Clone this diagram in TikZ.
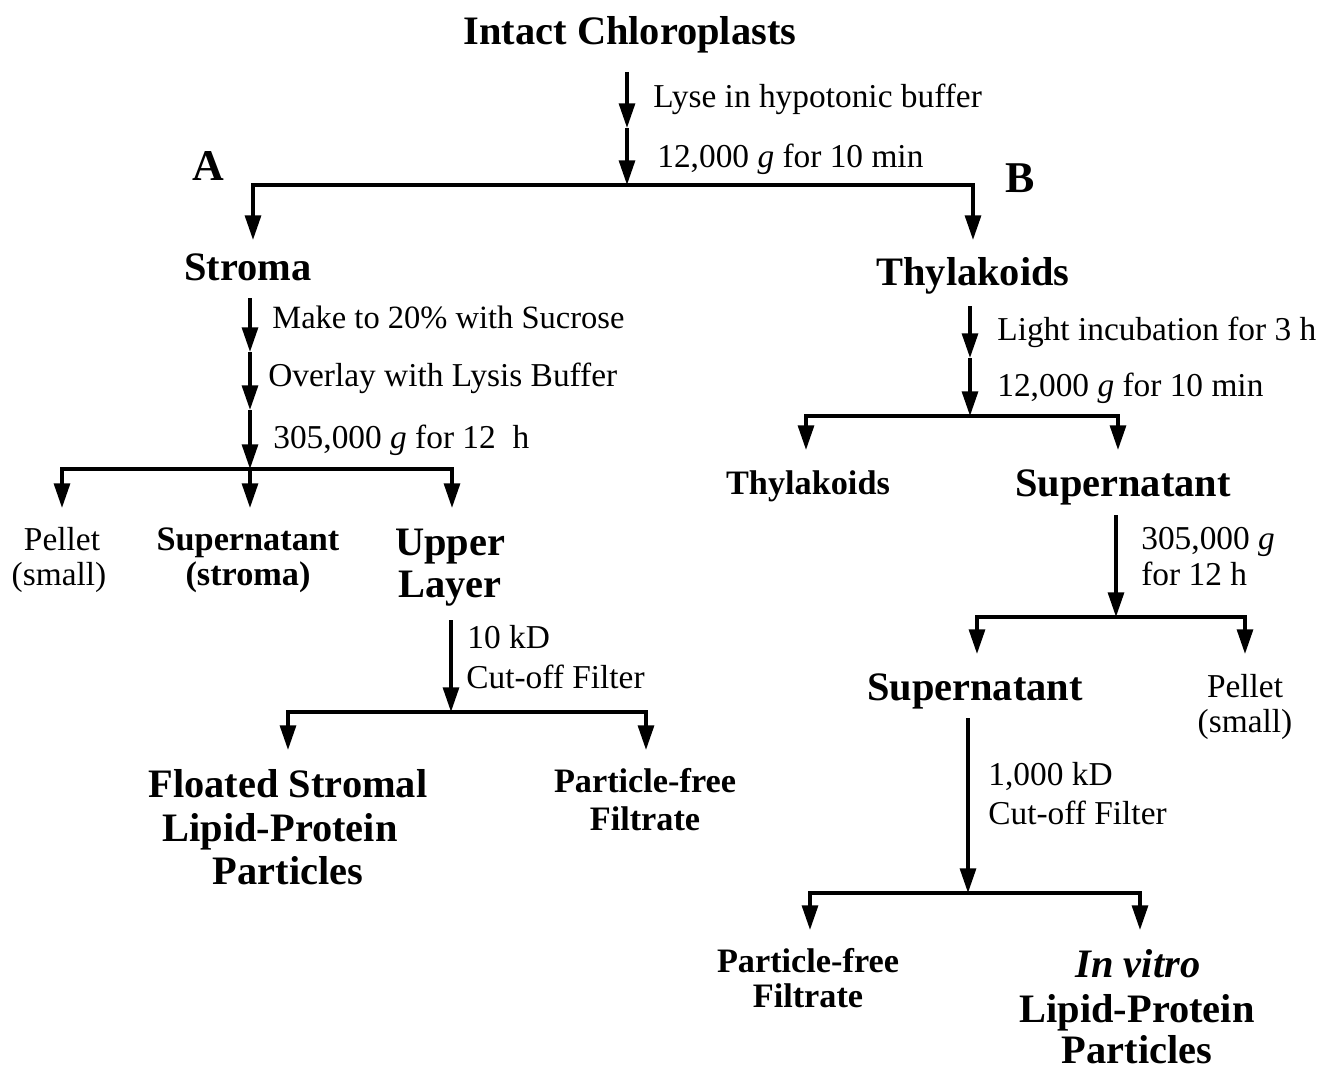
\documentclass[tikz,border=0pt]{standalone}
\usepackage{fontspec}
\setmainfont{Liberation Serif}
\usetikzlibrary{arrows.meta}
\begin{document}
\begin{tikzpicture}[x=0.02cm,y=-0.02cm,
  arr/.style={-{Triangle[width=9pt,length=14pt]}, line width=2pt},
  big/.style={font=\fontsize{23}{27}\selectfont\bfseries, inner sep=0, anchor=base},
  sml/.style={font=\fontsize{19.5}{23}\selectfont\bfseries, inner sep=0, anchor=base},
  reg/.style={font=\fontsize{19}{23}\selectfont, inner sep=0, anchor=base},
  lab/.style={reg, anchor=base west}]
\useasboundingbox (0,0) rectangle (1332,1071);

% ---------- top ----------
\node[big] (ic) at (630,45) {Intact Chloroplasts};
\coordinate (c0) at (627,72);
\coordinate (c1) at (627,128);
\coordinate (j0) at (627,185);
\node[lab] (l1) at (653,108) {Lyse in hypotonic buffer};
\node[lab] (l2) at (657,168) {12,000 \textit{g} for 10 min};
\draw[arr] (c0) -- (c1);
\draw[arr] (c1) -- (j0);
\node[big, font=\fontsize{25}{29}\selectfont\bfseries] (A) at (208,181) {A};
\node[big, font=\fontsize{25}{29}\selectfont\bfseries] (B) at (1020,193) {B};
\coordinate (tS) at (253,240);
\coordinate (tT) at (973,240);
\draw[arr] (j0) -| (tS);
\draw[arr] (j0) -| (tT);

% ---------- branch A ----------
\node[big] (stroma) at (248,280) {Stroma};
\coordinate (s0) at (250,298);
\coordinate (s1) at (250,352);
\coordinate (s2) at (250,410);
\coordinate (j1) at (250,469);
\draw[arr] (s0) -- (s1);
\draw[arr] (s1) -- (s2);
\draw[arr] (s2) -- (j1);
\node[lab, font=\fontsize{18.5}{22}\selectfont] (m1) at (272,328) {Make to 20\% with Sucrose};
\node[lab] (m2) at (268,386) {Overlay with Lysis Buffer};
\node[lab] (m3) at (273,448) {305,000 \textit{g} for 12\ \ h};
\coordinate (tP) at (62,508);
\coordinate (tSu) at (250,508);
\coordinate (tU) at (452,508);
\draw[arr] (j1) -| (tP);
\draw[arr] (j1) -- (tSu);
\draw[arr] (j1) -| (tU);
\node[reg] (pel1) at (62,550) {Pellet};
\node[reg] (pel2) at (59,585) {(small)};
\node[sml] (sup1) at (248,550) {Supernatant};
\node[sml] (sup2) at (248,585) {(stroma)};
\node[big] (up1) at (450,555) {Upper};
\node[big] (up2) at (450,597) {Layer};
\coordinate (u0) at (451,620);
\coordinate (j2) at (451,712);
\draw[arr] (u0) -- (j2);
\node[lab] (k1) at (467,648) {10 kD};
\node[lab] (k2) at (466,688) {Cut-off Filter};
\coordinate (tF) at (288,750);
\coordinate (tPF) at (646,750);
\draw[arr] (j2) -| (tF);
\draw[arr] (j2) -| (tPF);
\node[big] (fl1) at (288,797) {Floated Stromal};
\node[big] (fl2) at (280,841) {Lipid-Protein};
\node[big] (fl3) at (288,884) {Particles};
\node[sml] (pf1) at (645,792) {Particle-free};
\node[sml] (pf2) at (645,830) {Filtrate};

% ---------- branch B ----------
\node[big] (thy) at (973,285) {Thylakoids};
\coordinate (t0) at (970,306);
\coordinate (t1) at (970,358);
\coordinate (j3) at (970,416);
\draw[arr] (t0) -- (t1);
\draw[arr] (t1) -- (j3);
\node[lab] (n1) at (997,340) {Light incubation for 3 h};
\node[lab] (n2) at (997,396) {12,000 \textit{g} for 10 min};
\coordinate (tTh) at (806,450);
\coordinate (tSp) at (1118,450);
\draw[arr] (j3) -| (tTh);
\draw[arr] (j3) -| (tSp);
\node[sml] (thy2) at (808,494) {Thylakoids};
\node[big] (sp1) at (1123,496) {Supernatant};
\coordinate (p0) at (1116,515);
\coordinate (j4) at (1116,617);
\draw[arr] (p0) -- (j4);
\node[lab] (q1) at (1141,549) {305,000 \textit{g}};
\node[lab] (q2) at (1141,585) {for 12 h};
\coordinate (tS2) at (977,654);
\coordinate (tPe) at (1245,654);
\draw[arr] (j4) -| (tS2);
\draw[arr] (j4) -| (tPe);
\node[big] (sp2) at (975,700) {Supernatant};
\node[reg] (pe1) at (1245,697) {Pellet};
\node[reg] (pe2) at (1245,732) {(small)};
\coordinate (r0) at (968,718);
\coordinate (j5) at (968,893);
\draw[arr] (r0) -- (j5);
\node[lab] (o1) at (988,785) {1,000 kD};
\node[lab] (o2) at (988,824) {Cut-off Filter};
\coordinate (tPF2) at (810,930);
\coordinate (tIV) at (1140,930);
\draw[arr] (j5) -| (tPF2);
\draw[arr] (j5) -| (tIV);
\node[sml] (pf3) at (808,972) {Particle-free};
\node[sml] (pf4) at (808,1007) {Filtrate};
\node[big] (iv1) at (1138,977) {\textit{In vitro}};
\node[big] (iv2) at (1137,1022) {Lipid-Protein};
\node[big] (iv3) at (1137,1063) {Particles};
\end{tikzpicture}
\end{document}
